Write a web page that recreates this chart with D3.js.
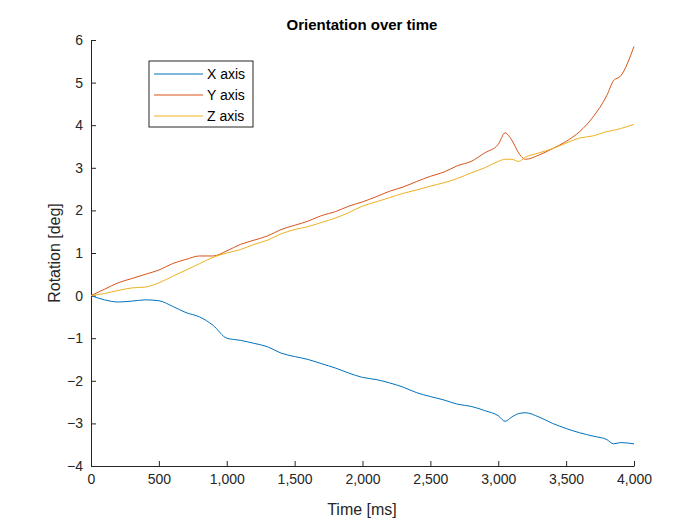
<!DOCTYPE html>
<html><head><meta charset="utf-8">
<script src="https://cdn.jsdelivr.net/npm/d3@7"></script>
<style>body{margin:0;background:#fff}</style></head>
<body><svg id="c" width="700" height="525"></svg>
<script>
const timeMs = [0,100,200,300,400,500,600,700,800,900,1000,1100,1200,1300,1400,1500,1600,1700,1800,1900,2000,2100,2200,2300,2400,2500,2600,2700,2800,2900,3000,3050,3100,3150,3200,3300,3400,3500,3600,3700,3800,3850,3900,4000];
const xAxisRot = [0,-0.1,-0.15,-0.13,-0.1,-0.12,-0.25,-0.4,-0.5,-0.7,-1.0,-1.05,-1.12,-1.2,-1.35,-1.43,-1.5,-1.6,-1.7,-1.82,-1.92,-1.97,-2.05,-2.15,-2.28,-2.37,-2.45,-2.55,-2.6,-2.7,-2.82,-2.95,-2.85,-2.77,-2.75,-2.85,-3.0,-3.12,-3.22,-3.3,-3.38,-3.48,-3.45,-3.48];
const yAxisRot = [0,0.15,0.3,0.4,0.5,0.6,0.75,0.85,0.93,0.93,1.05,1.2,1.3,1.4,1.55,1.65,1.75,1.88,1.97,2.1,2.2,2.32,2.45,2.55,2.68,2.8,2.9,3.05,3.15,3.35,3.55,3.82,3.65,3.35,3.2,3.3,3.45,3.62,3.85,4.2,4.7,5.05,5.15,5.85];
const zAxisRot = [0,0.05,0.12,0.18,0.2,0.3,0.45,0.6,0.75,0.9,1.0,1.08,1.2,1.3,1.45,1.55,1.62,1.72,1.82,1.95,2.1,2.2,2.3,2.4,2.48,2.57,2.65,2.75,2.88,3.0,3.15,3.2,3.2,3.15,3.25,3.35,3.45,3.58,3.7,3.75,3.85,3.88,3.92,4.02];
const seriesNames = ["X axis","Y axis","Z axis"];
const colors = ["#0072BD","#D95319","#EDB120"];
const xTicks = [0,500,1000,1500,2000,2500,3000,3500,4000];
const yTicks = [-4,-3,-2,-1,0,1,2,3,4,5,6];

const svg = d3.select("#c");
const x = d3.scaleLinear().domain([0,4000]).range([91,634]);
const y = d3.scaleLinear().domain([-4,6]).range([466,40]);
const font = "Liberation Sans, Arial, sans-serif";

svg.append("g").attr("transform","translate(0,466)")
  .call(d3.axisBottom(x).tickValues(xTicks).tickSize(-5).tickPadding(8).tickSizeOuter(0))
  .call(g=>{g.selectAll("text").attr("font-size",14).attr("font-family",font).attr("fill","#262626");g.selectAll("line,path").attr("stroke","#262626");});
svg.append("g").attr("transform","translate(91,0)")
  .call(d3.axisLeft(y).tickValues(yTicks).tickSize(-5).tickPadding(8).tickSizeOuter(0))
  .call(g=>{g.selectAll("text").attr("font-size",14).attr("font-family",font).attr("fill","#262626");g.selectAll("line,path").attr("stroke","#262626");});

const data = [xAxisRot,yAxisRot,zAxisRot];
const line = d3.line().x((d,i)=>x(timeMs[i])).y(d=>y(d)).curve(d3.curveMonotoneX);
data.forEach((s,k)=>svg.append("path").attr("d",line(s)).attr("fill","none").attr("stroke",colors[k]).attr("stroke-width",1));

svg.append("text").attr("x",362).attr("y",30).attr("text-anchor","middle").attr("font-size",15).attr("font-weight","bold").attr("font-family",font).text("Orientation over time");
svg.append("text").attr("x",362).attr("y",515).attr("text-anchor","middle").attr("font-size",16).attr("font-family",font).attr("fill","#262626").text("Time [ms]");
svg.append("text").attr("transform","translate(60,253) rotate(-90)").attr("text-anchor","middle").attr("font-size",16).attr("font-family",font).attr("fill","#262626").text("Rotation [deg]");

const lg = svg.append("g");
lg.append("rect").attr("x",149).attr("y",61).attr("width",104).attr("height",66).attr("fill","#fff").attr("stroke","#262626");
seriesNames.forEach((n,k)=>{
  const yy = 74 + k*21;
  lg.append("line").attr("x1",154).attr("x2",203).attr("y1",yy).attr("y2",yy).attr("stroke",colors[k]);
  lg.append("text").attr("x",207).attr("y",yy+5).attr("font-size",14).attr("font-family",font).text(n);
});
</script></body></html>
